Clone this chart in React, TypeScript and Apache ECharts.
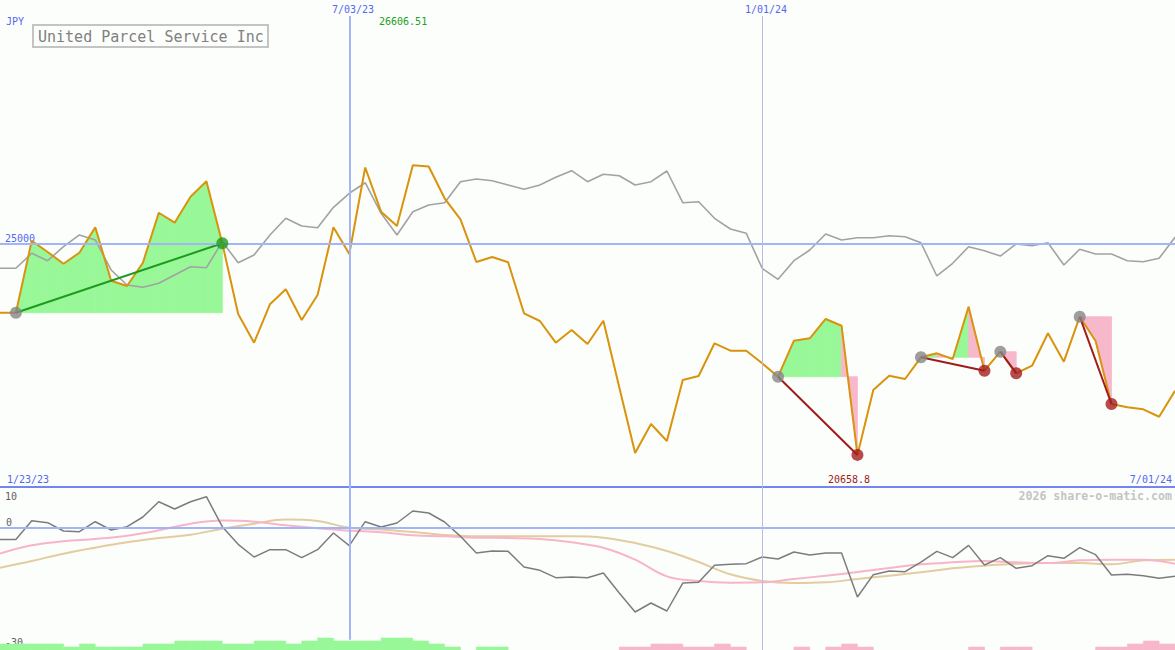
import React, { useEffect, useRef } from "react";
import * as echarts from "echarts";

// ---- data (weekly, index 0..74) ----
const price = [23579, 23579, 25057, 24826, 24585, 24811, 25333, 24236, 24127, 24606, 25632, 25427, 25961, 26277, 25004, 23552, 22963, 23752, 24059, 23429, 23942, 25333, 24784, 26560, 25653, 25359, 26606.51, 26580, 25928, 25497, 24620, 24723, 24614, 23567, 23409, 22963, 23224, 22936, 23415, 22050, 20700, 21294, 20945, 22197, 22279, 22951, 22799, 22799, 22540, 22265, 23004, 23053, 23450, 23312, 20658.8, 21992, 22285, 22218, 22663, 22745, 22628, 23702, 22388, 22778, 22335, 22491, 23156, 22573, 23497, 22998, 21704, 21636, 21595, 21443, 21977];
const comparison = [24491, 24491, 24799, 24647, 24934, 25175, 25072, 24456, 24148, 24101, 24183, 24353, 24524, 24503, 25037, 24606, 24764, 25175, 25517, 25359, 25324, 25743, 26031, 26248, 25620, 25175, 25653, 25791, 25838, 26269, 26324, 26290, 26201, 26113, 26201, 26359, 26495, 26269, 26421, 26392, 26201, 26269, 26489, 25838, 25858, 25517, 25298, 25209, 24491, 24265, 24647, 24866, 25195, 25072, 25119, 25119, 25160, 25140, 25016, 24333, 24593, 24934, 24852, 24743, 24990, 24955, 25016, 24558, 24881, 24784, 24784, 24647, 24626, 24696, 25127];
const momentum = [-2.9, -2.9, 1.73, 1.24, -0.8, -0.97, 1.48, -0.55, 0.26, 2.64, 6.39, 4.6, 6.39, 7.62, 0.26, -4.07, -7.18, -5.38, -5.38, -7.34, -5.38, -1.29, -4.4, 1.49, 0.18, 1.17, 4.11, 3.62, 1.41, -2.11, -6.2, -5.7, -5.79, -9.63, -10.45, -12.25, -12.09, -12.25, -11.1, -16.01, -20.68, -18.47, -20.43, -13.56, -13.39, -9.22, -8.98, -8.81, -7.18, -7.67, -5.95, -6.69, -6.2, -6.2, -16.99, -11.51, -10.61, -10.78, -8.41, -5.79, -7.34, -4.32, -9.14, -7.34, -9.96, -9.3, -6.85, -7.51, -4.89, -6.61, -11.6, -11.43, -11.76, -12.41, -11.92];
// moving averages sampled every second week (index 0,2,...,74)
const pinkAvg = [-6.36, -4.32, -3.33, -2.76, -1.94, -0.63, 1.0, 1.75, 1.49, 0.59, -0.14, -0.72, -1.1, -1.86, -2.11, -2.43, -2.52, -2.76, -3.58, -4.89, -7.83, -11.92, -13.07, -13.48, -13.39, -12.58, -11.76, -10.86, -9.88, -8.98, -8.49, -8.16, -8.49, -8.65, -8.0, -7.83, -7.83, -8.81];
const tanAvg = [-9.8, -8.16, -6.36, -4.89, -3.58, -2.52, -1.7, -0.23, 1.0, 2.0, 1.66, 0.0, -0.4, -1.04, -1.78, -2.11, -2.11, -2.11, -2.11, -2.43, -3.74, -5.71, -8.41, -11.43, -13.07, -13.56, -13.39, -12.58, -11.76, -10.94, -9.96, -9.3, -8.81, -8.65, -8.65, -8.98, -8.0, -7.83];
// histogram levels per week (positive = green, negative = pink)
const histogram = [2, 2, 2, 2, 1, 2, 1, 1, 1, 2, 2, 3, 3, 3, 2, 2, 3, 3, 2, 3, 4, 3, 3, 3, 4, 4, 3, 2, 1, 0, 1, 1, 0, 0, 0, 0, 0, 0, 0, -1, -1, -2, -2, -1, -1, -2, -1, 0, 0, 0, -1, 0, -1, -2, -1, 0, 0, 0, 0, 0, 0, -1, 0, -1, -1, 0, 0, 0, 0, -1, -1, -2, -3, -2];
// trades: entry week, exit week
const tradeEntries = [1, 49, 58, 63, 68];
const tradeExits = [14, 54, 62, 64, 70];
// labels
const currencyLabel = "JPY";
const titleLabel = "United Parcel Service Inc";
const markerDates = ["7/03/23", "1/01/24"];
const markerIdx = [22, 48];
const startDate = "1/23/23";
const endDate = "7/01/24";
const maxLabel = "26606.51";
const minLabel = "20658.8";
const priceTick = "25000";
const oscTicks = ["10", "0", "-30"];
const credit = "2026 share-o-matic.com";

const GREEN_FILL = "#98f898";
const PINK_FILL = "#f8b8cc";
const BLUE_TXT = "#5468f0";
const REF_BLUE = "#a4b4f8";
const MONO = "'DejaVu Sans Mono', monospace";

export default function App() {
  const ref = useRef<HTMLDivElement>(null);
  useEffect(() => {
    document.body.style.margin = "0";
    const chart = echarts.init(ref.current!, null, { renderer: "svg" });
    const N = price.length;
    const XMAX = N - 1;

    const fillData: number[][] = [];
    tradeEntries.forEach((e, k) => {
      const base = price[e];
      for (let i = e; i < tradeExits[k]; i++) fillData.push([i, base, price[i], price[i + 1]]);
    });

    const tradeLines = tradeEntries.map((e, k) => {
      const x = tradeExits[k];
      const win = price[x] >= price[e];
      return {
        type: "line",
        xAxisIndex: 0,
        yAxisIndex: 0,
        z: 4,
        silent: true,
        showSymbol: false,
        lineStyle: { color: win ? "#1f9a1f" : "#a01c1c", width: 2 },
        data: [[e, price[e]], [x, price[x]]],
      };
    });

    const exitData = tradeEntries.map((e, k) => {
      const x = tradeExits[k];
      const win = price[x] >= price[e];
      return { value: [x, price[x]], itemStyle: { color: win ? "#1f9a1f" : "#a41e1e" } };
    });

    const txt = (text: string, x: number, y: number, fill: string, size = 10, align = "left", weight = "normal") => ({
      type: "text",
      x,
      y,
      silent: true,
      style: { text, fill, fontSize: size, fontFamily: MONO, fontWeight: weight, align, verticalAlign: "middle" },
    });

    const option: any = {
      animation: false,
      backgroundColor: "#fcfefc",
      grid: [
        { left: 0, right: 0, top: 0, height: 487 },
        { left: 0, right: 0, top: 487, height: 163 },
      ],
      xAxis: [
        {
          type: "value", gridIndex: 0, min: 0, max: XMAX,
          axisLine: { show: true, onZero: false, lineStyle: { color: "#7484f0", width: 2 } },
          axisTick: { show: false }, axisLabel: { show: false }, splitLine: { show: false },
        },
        { type: "value", gridIndex: 1, min: 0, max: XMAX, show: false, splitLine: { show: false } },
      ],
      yAxis: [
        { type: "value", gridIndex: 0, min: 20000, max: 30000, show: false, splitLine: { show: false } },
        { type: "value", gridIndex: 1, min: -30, max: 10, show: false, splitLine: { show: false } },
        { type: "value", gridIndex: 1, min: 0, max: 163 / 3, show: false, splitLine: { show: false } },
      ],
      series: [
        {
          type: "line", xAxisIndex: 0, yAxisIndex: 0, data: [], z: 0, silent: true,
          markLine: {
            silent: true, symbol: ["none", "none"], label: { show: false }, animation: false,
            data: [
              { yAxis: 25000, lineStyle: { color: REF_BLUE, width: 2, type: "solid" } },
              [
                { coord: [markerIdx[0], 29670], lineStyle: { color: REF_BLUE, width: 2, type: "solid" } },
                { coord: [markerIdx[0], 20000], lineStyle: { color: REF_BLUE, width: 2, type: "solid" } },
              ],
              [
                { coord: [markerIdx[1], 29670], lineStyle: { color: "#b8bedf", width: 1, type: "solid" } },
                { coord: [markerIdx[1], 20000], lineStyle: { color: "#b8bedf", width: 1, type: "solid" } },
              ],
            ],
          },
        },
        {
          type: "line", xAxisIndex: 1, yAxisIndex: 1, data: [], z: 0, silent: true,
          markLine: {
            silent: true, symbol: ["none", "none"], label: { show: false }, animation: false,
            data: [
              { yAxis: 0, lineStyle: { color: REF_BLUE, width: 2, type: "solid" } },
              [
                { coord: [markerIdx[0], 10], lineStyle: { color: REF_BLUE, width: 2, type: "solid" } },
                { coord: [markerIdx[0], -27.5], lineStyle: { color: REF_BLUE, width: 2, type: "solid" } },
              ],
              [
                { coord: [markerIdx[1], 10], lineStyle: { color: "#b8bedf", width: 1, type: "solid" } },
                { coord: [markerIdx[1], -30], lineStyle: { color: "#b8bedf", width: 1, type: "solid" } },
              ],
            ],
          },
        },
        {
          type: "custom", xAxisIndex: 0, yAxisIndex: 0, z: 1, silent: true,
          encode: { x: 0, y: 1 },
          data: fillData,
          renderItem: (params: any, api: any) => {
            const i = api.value(0), base = api.value(1), a = api.value(2), b = api.value(3);
            const pts = [api.coord([i, base]), api.coord([i, a]), api.coord([i + 1, b]), api.coord([i + 1, base])];
            const c = b >= base ? GREEN_FILL : PINK_FILL;
            return { type: "polygon", shape: { points: pts }, style: { fill: c, stroke: c, lineWidth: 0.8 } };
          },
        },
        {
          type: "line", xAxisIndex: 0, yAxisIndex: 0, z: 2, silent: true, showSymbol: false,
          lineStyle: { color: "#a2a2a2", width: 1.6 },
          data: comparison.map((v, i) => [i, v]),
        },
        {
          type: "line", xAxisIndex: 0, yAxisIndex: 0, z: 3, silent: true, showSymbol: false,
          lineStyle: { color: "#d9930d", width: 2 },
          data: price.map((v, i) => [i, v]),
        },
        ...tradeLines,
        {
          type: "scatter", xAxisIndex: 0, yAxisIndex: 0, z: 5, silent: true, symbolSize: 12,
          itemStyle: { color: "#868686" },
          data: tradeEntries.map((e) => [e, price[e]]),
        },
        {
          type: "scatter", xAxisIndex: 0, yAxisIndex: 0, z: 6, silent: true, symbolSize: 12,
          data: exitData,
        },
        {
          type: "custom", xAxisIndex: 1, yAxisIndex: 2, z: 1, silent: true,
          encode: { x: 0, y: 1 },
          data: histogram.map((v, i) => [i, v]),
          renderItem: (params: any, api: any) => {
            const i = api.value(0), v = api.value(1);
            if (!v) return null;
            const p1 = api.coord([i, Math.abs(v)]);
            const p2 = api.coord([i + 1, 0]);
            const c = v > 0 ? GREEN_FILL : PINK_FILL;
            return {
              type: "rect",
              shape: { x: p1[0], y: p1[1], width: p2[0] - p1[0], height: p2[1] - p1[1] },
              style: { fill: c, stroke: c, lineWidth: 0.6 },
            };
          },
        },
        {
          type: "line", xAxisIndex: 1, yAxisIndex: 1, z: 2, silent: true, showSymbol: false, smooth: 0.4,
          lineStyle: { color: "#e2cca0", width: 2 },
          data: tanAvg.map((v, k) => [k * 2, v]),
        },
        {
          type: "line", xAxisIndex: 1, yAxisIndex: 1, z: 2, silent: true, showSymbol: false, smooth: 0.4,
          lineStyle: { color: "#f8b4c8", width: 2 },
          data: pinkAvg.map((v, k) => [k * 2, v]),
        },
        {
          type: "line", xAxisIndex: 1, yAxisIndex: 1, z: 3, silent: true, showSymbol: false,
          lineStyle: { color: "#7c7c7c", width: 1.5 },
          data: momentum.map((v, i) => [i, v]),
        },
      ],
      graphic: [
        txt(currencyLabel, 6, 21, BLUE_TXT),
        {
          type: "rect", silent: true,
          shape: { x: 33, y: 25, width: 235, height: 22 },
          style: { fill: "#fcfefc", stroke: "#c4c4c4", lineWidth: 2 },
        },
        txt(titleLabel, 38, 36.5, "#808080", 15),
        txt(markerDates[0], 332, 9, BLUE_TXT),
        txt(markerDates[1], 745, 9, BLUE_TXT),
        txt(maxLabel, 379, 21, "#22a022"),
        txt(priceTick, 5, 238, BLUE_TXT),
        txt(startDate, 7, 479, BLUE_TXT),
        txt(minLabel, 828, 479, "#a01c1c"),
        txt(endDate, 1172, 479, BLUE_TXT, 10, "right"),
        txt(credit, 1172, 496, "#c4c4c4", 11.6, "right", "bold"),
        txt(oscTicks[0], 5, 496, "#606060"),
        txt(oscTicks[1], 6, 522, "#606060"),
        txt(oscTicks[2], 5, 642, "#606060"),
      ],
    };
    chart.setOption(option);
    return () => chart.dispose();
  }, []);
  return <div ref={ref} style={{ width: 1175, height: 650 }} />;
}
